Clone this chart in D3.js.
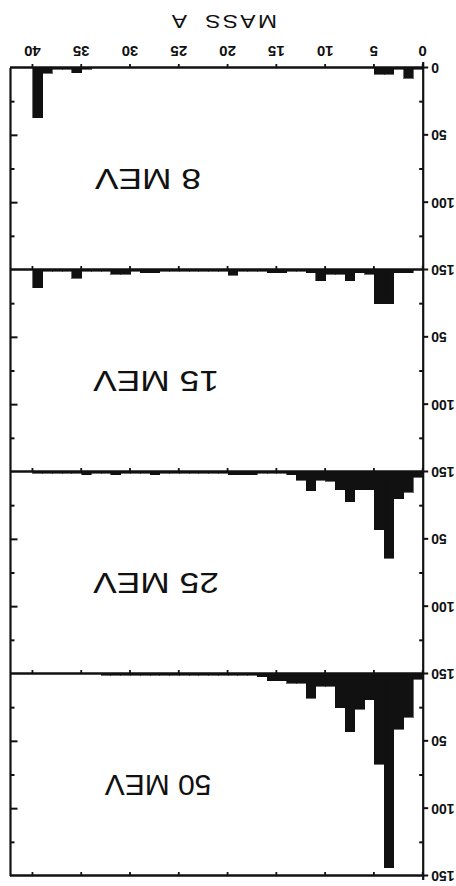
<!DOCTYPE html>
<html><head><meta charset="utf-8">
<script src="https://cdn.jsdelivr.net/npm/d3@7"></script>
<style>html,body{margin:0;padding:0;background:#fff;overflow:hidden}</style>
</head><body>
<svg id="c" width="456" height="886"></svg>
<script>
// ---- data (mass bins: lower edge of each 1-unit bin) ----
const massBins = [0,1,2,3,4,5,6,7,8,9,10,11,12,13,14,15,16,17,18,19,20,21,22,23,24,25,26,27,28,29,30,31,32,33,34,35,36,37,38,39,40];
const energies = ["8 MEV", "15 MEV", "25 MEV", "50 MEV"];
const e8  = [1,7.5,1,4.5,4.5,0,0,0,0,0, 0,0,0,0,0,0,0,0,0,0, 0,0,0,0,0,0,0,0,0,0, 0,0,0,0,1,3.5,1,1,4,37, 0];
const e15 = [0,2,2,25,25,3,2,8,3,3, 8,2,1,1,2,2,1,1,1,4, 1,1,1,1,1,1,1,2,2,1, 3,3,1,1,1,6,1,1,1,13, 0];
const e25 = [4,15,20,64,43,13,13,22,13,7, 6,14,6,2,1,1,1,2,2,2, 1,1,1,1,1,1,1,2,1,1, 1,2,1,1,2,1,1,1,1,1, 0];
const e50 = [4,32,41,144,67,19,26,43,25,9, 9,18,7,7,5,5,2,1,1,1, 1,1,1,1,1,1,1,1,1,1, 1,1,1,0,0,0,0,0,0,0, 0];
const xTicks = [0,5,10,15,20,25,30,35,40];
const yMajor = [0,50,100,150];
const yMinor = [25,75,125];
const xTitle = "MASS";
const xTitleUnit = "A";

// ---- layout ----
const series = [e8, e15, e25, e50];
const labelPos = [{cx: 308, s: 1.18}, {cx: 300, s: 1.18}, {cx: 300, s: 1.18}, {cx: 298, s: 1}];
const svg = d3.select("#c");
// the whole figure is shown rotated by 180 degrees
const g = svg.append("g").attr("transform", "rotate(180,228,443)");
const x = d3.scaleLinear().domain([0, 42.3]).range([32.8, 445.5]);
const panelH = 202, bottom = 818;
const ink = "#111";
const font = "Liberation Sans, Arial, sans-serif";

series.forEach((vals, i) => {
  const base = bottom - i * panelH;
  const y = d3.scaleLinear().domain([0, 150]).range([base, base - panelH]);
  const data = massBins.map((m, j) => ({m, v: vals[j]})).filter(d => d.v > 0);
  g.append("g").attr("shape-rendering", "crispEdges").selectAll("rect").data(data).join("rect")
    .attr("x", d => x(d.m)).attr("width", d => x(d.m + 1) - x(d.m))
    .attr("y", d => y(d.v)).attr("height", d => base - y(d.v))
    .attr("fill", ink).attr("stroke", ink).attr("stroke-width", 0.6);

  // left axis: labelled major ticks outward
  const ax = g.append("g").attr("transform", `translate(${x(0)},0)`)
    .call(d3.axisLeft(y).tickValues(i === 0 ? yMajor : yMajor.slice(1)).tickSize(5).tickPadding(3).tickSizeOuter(0));
  ax.select(".domain").remove();
  ax.selectAll("line").attr("stroke", ink).attr("stroke-width", 2);
  ax.selectAll("text").attr("font-family", font)
    .attr("font-weight", "bold").attr("font-size", 14).attr("fill", ink);
  // left axis minor ticks inward
  g.append("g").selectAll("line").data(yMinor).join("line")
    .attr("x1", x(0)).attr("x2", x(0) + 4).attr("y1", d => y(d)).attr("y2", d => y(d))
    .attr("stroke", ink).attr("stroke-width", 2);
  // right frame ticks inward
  g.append("g").selectAll("line").data(yMajor.slice(1, 3).concat(yMinor)).join("line")
    .attr("x1", x.range()[1]).attr("x2", d => x.range()[1] - (d % 50 === 0 ? 7 : 4))
    .attr("y1", d => y(d)).attr("y2", d => y(d))
    .attr("stroke", ink).attr("stroke-width", 2);

  // panel label
  const yl = base - 101;
  g.append("text").attr("transform", `translate(${labelPos[i].cx},${yl}) scale(${labelPos[i].s},1)`)
    .attr("text-anchor", "middle")
    .attr("font-family", font).attr("font-size", 30)
    .attr("fill", ink).text(energies[i]);
});

// horizontal boundary lines with ticks
[0, 1, 2, 3, 4].forEach(k => {
  const yy = bottom - k * panelH;
  const a = g.append("g").attr("transform", `translate(0,${yy})`)
    .call(d3.axisBottom(x).tickValues(xTicks).tickSize(4).tickPadding(7).tickSizeOuter(0)
      .tickFormat(k === 0 ? d3.format("d") : () => ""));
  a.select(".domain").attr("stroke", ink).attr("stroke-width", 2.4);
  a.selectAll("line").attr("stroke", ink).attr("stroke-width", 1.8);
  a.selectAll("text").attr("font-family", font)
    .attr("font-weight", "bold").attr("font-size", 15).attr("fill", ink);
});

// vertical lines
g.append("line").attr("x1", x(0)).attr("x2", x(0)).attr("y1", 6).attr("y2", bottom + 6)
  .attr("stroke", ink).attr("stroke-width", 2.2);
g.append("line").attr("x1", x.range()[1]).attr("x2", x.range()[1]).attr("y1", bottom - 4 * panelH).attr("y2", bottom)
  .attr("stroke", ink).attr("stroke-width", 2.2);

// axis title
const t = g.append("text").attr("transform", "translate(179,871) scale(1.2,1)")
  .attr("font-family", font).attr("font-size", 19)
  .attr("letter-spacing", 2).attr("fill", ink).attr("xml:space", "preserve");
t.append("tspan").text(xTitle + " ");
t.append("tspan").attr("dx", 6).text(xTitleUnit);
</script>
</body></html>
